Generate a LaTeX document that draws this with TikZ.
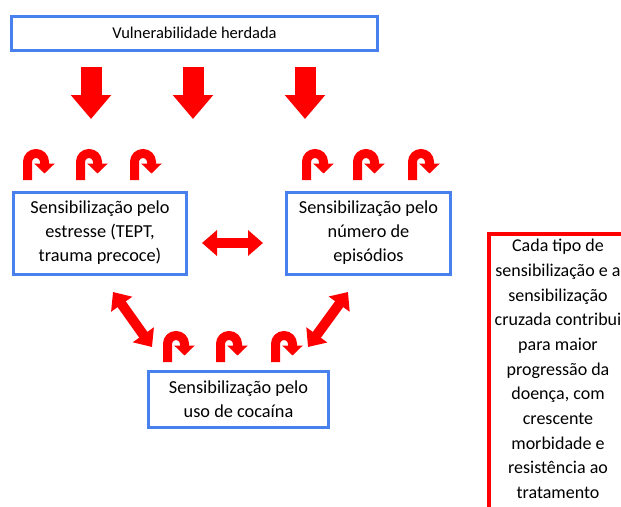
\documentclass[tikz,border=0pt]{standalone}
\usepackage{fontspec}
\setmainfont{Carlito}
\usetikzlibrary{arrows.meta}
\definecolor{boxblue}{RGB}{72,128,238}
\definecolor{arrred}{RGB}{255,0,0}
\begin{document}
\begin{tikzpicture}[x=1pt,y=-1pt,
  bluebox/.style={draw=boxblue, line width=3pt, fill=white, align=center,
    font=\fontsize{18.3}{24}\selectfont, inner sep=0pt},
  downarrow/.style={draw=arrred, line width=21pt, -{Triangle[width=39pt,length=24pt]}, arrred},
  dblarrow/.style={draw=arrred, line width=10pt, {Triangle[width=25pt,length=15pt]}-{Triangle[width=25pt,length=15pt]}, arrred},
  uarrow/.style={draw=arrred, line width=9pt, -{Triangle[width=20pt,length=10pt]}, arrred},
  uturn/.pic={\draw[uarrow] (0,0) -- (0,-18) arc[start angle=180,end angle=360,radius=8.5] -- (17,-6.5);}
]
\useasboundingbox (0,0) rectangle (621,506);
\clip (0,0) rectangle (621,506);
\fill[white] (0,0) rectangle (621,506);

% boxes
\node[bluebox, font=\fontsize{16.5}{20}\selectfont, minimum width=366pt, minimum height=34pt] (top) at (194.5,33) {Vulnerabilidade herdada};
\node[bluebox, minimum width=173pt, minimum height=82pt] (left) at (100,233) {Sensibilização pelo\\estresse (TEPT,\\trauma precoce)};
\node[bluebox, minimum width=164pt, minimum height=82pt] (right) at (368.5,233) {Sensibilização pelo\\número de\\episódios};
\node[bluebox, minimum width=180pt, minimum height=56pt] (bottom) at (238.5,399) {Sensibilização pelo\\uso de cocaína};

% red note box (cut by the picture edge)
\node[draw=arrred, line width=4pt, minimum width=160pt, minimum height=300pt, anchor=north west, inner sep=0pt] (notebox) at (487,232) {};
\node[align=center, font=\fontsize{18}{24.7}\selectfont, inner sep=0pt] (note) at (558,369)
  {Cada tipo de\\sensibilização e a\\sensibilização\\cruzada contribui\\para maior\\progressão da\\doença, com\\crescente\\morbidade e\\resistência ao\\tratamento};

% down arrows
\coordinate (d1s) at (91,67);  \coordinate (d1e) at (91,119);
\coordinate (d2s) at (193,67); \coordinate (d2e) at (193,119);
\coordinate (d3s) at (305,67); \coordinate (d3e) at (305,119);
\draw[downarrow] (d1s) -- (d1e);
\draw[downarrow] (d2s) -- (d2e);
\draw[downarrow] (d3s) -- (d3e);

% u-turn arrows
\pic at (27.5,180) {uturn};
\pic at (80.5,180) {uturn};
\pic at (134.5,180) {uturn};
\pic at (306.5,180) {uturn};
\pic at (357.5,180) {uturn};
\pic at (412.5,180) {uturn};
\pic at (167.5,362) {uturn};
\pic at (220.5,362) {uturn};
\pic at (275.5,362) {uturn};

% double arrows
\coordinate (h1) at (202,243); \coordinate (h2) at (263,243);
\coordinate (l1) at (113,292); \coordinate (l2) at (152,347);
\coordinate (r1) at (308,347); \coordinate (r2) at (348,292);
\draw[dblarrow] (h1) -- (h2);
\draw[dblarrow] (l1) -- (l2);
\draw[dblarrow] (r1) -- (r2);
\end{tikzpicture}
\end{document}
